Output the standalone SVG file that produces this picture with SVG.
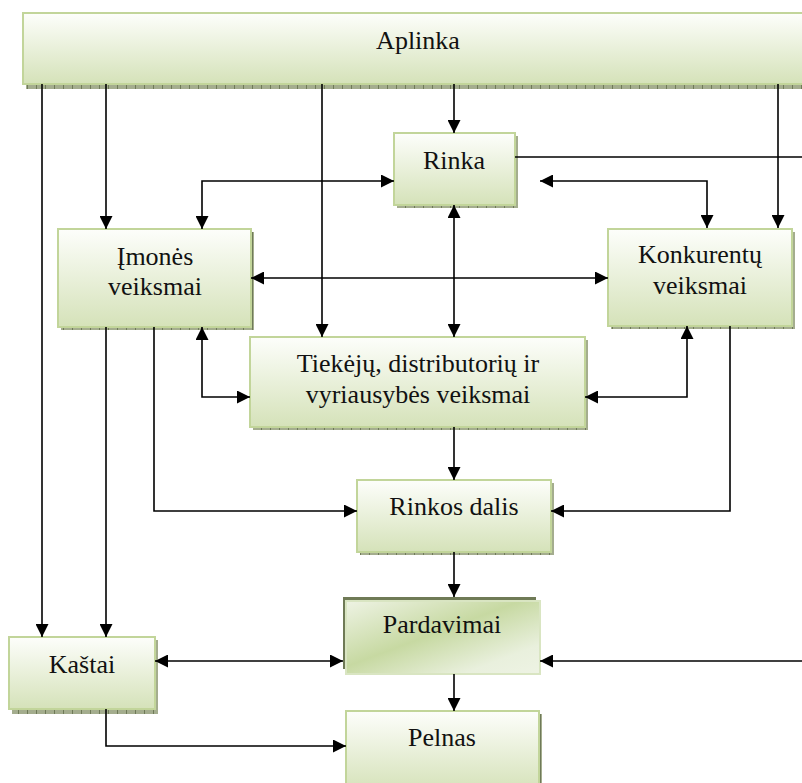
<svg xmlns="http://www.w3.org/2000/svg" width="802" height="783" viewBox="0 0 802 783">
<defs>
<linearGradient id="g" x1="0" y1="0" x2="0" y2="1">
<stop offset="0" stop-color="#fdfefb"/>
<stop offset="1" stop-color="#d5e2b9"/>
</linearGradient>
<linearGradient id="gp" x1="0" y1="0" x2="1" y2="1">
<stop offset="0" stop-color="#eef3e4"/>
<stop offset="0.45" stop-color="#c7d9a2"/>
<stop offset="0.8" stop-color="#e9f0dd"/>
<stop offset="1" stop-color="#eef3e4"/>
</linearGradient>
<pattern id="sh" width="9" height="6" patternUnits="userSpaceOnUse">
<rect width="9" height="6" fill="#a4ad8e"/>
<rect width="1" height="6" fill="#6f7a58"/>
</pattern>
<marker id="a" viewBox="0 0 13 13" refX="13" refY="6.5" markerWidth="13" markerHeight="13" markerUnits="userSpaceOnUse" orient="auto-start-reverse">
<path d="M0,0 L13,6.5 L0,13 Z" fill="#000"/>
</marker>
<style>
.box{fill:url(#g);stroke:#c2d59a;stroke-width:2}
.shd{fill:url(#sh)}
.t{font-family:'Liberation Serif','DejaVu Serif',serif;font-size:26px;fill:#111;text-anchor:middle}
.c{fill:none;stroke:#000;stroke-width:1.6}
</style>
</defs>

<g id="aplinka">
<rect class="shd" x="26" y="16" width="790" height="73"/>
<rect class="box" x="23" y="13" width="790" height="71"/>
<text class="t" x="418" y="49" font-family="Liberation Serif, serif">Aplinka</text>
</g>

<g id="rinka">
<rect class="shd" x="397" y="136" width="121" height="72"/>
<rect class="box" x="394" y="133" width="121" height="72"/>
<text class="t" x="454" y="169">Rinka</text>
</g>

<g id="imones">
<rect class="shd" x="61" y="232" width="193" height="98"/>
<rect class="box" x="58" y="229" width="193" height="98"/>
<text class="t" x="155" y="265">Įmonės</text>
<text class="t" x="155" y="295">veiksmai</text>
</g>

<g id="konkurentu">
<rect class="shd" x="611" y="232" width="184" height="97"/>
<rect class="box" x="608" y="229" width="184" height="97"/>
<text class="t" x="700" y="263">Konkurentų</text>
<text class="t" x="700" y="294">veiksmai</text>
</g>

<g id="tiekeju">
<rect class="shd" x="253" y="340" width="335" height="90"/>
<rect class="box" x="250" y="337" width="335" height="90"/>
<text class="t" x="418" y="372">Tiekėjų, distributorių ir</text>
<text class="t" x="418" y="403">vyriausybės veiksmai</text>
</g>

<g id="rinkos-dalis">
<rect class="shd" x="360" y="483" width="194" height="72"/>
<rect class="box" x="357" y="480" width="194" height="72"/>
<text class="t" x="454" y="515">Rinkos dalis</text>
</g>

<g id="pardavimai">
<rect x="343" y="597" width="193" height="72" fill="#6f7a56"/>
<rect x="346" y="601" width="194" height="73" fill="url(#gp)" stroke="#d9e5c2" stroke-width="2"/>
<text class="t" x="442" y="633">Pardavimai</text>
</g>

<g id="kastai">
<rect class="shd" x="12" y="640" width="146" height="74"/>
<rect class="box" x="9" y="637" width="146" height="72"/>
<text class="t" x="82" y="673">Kaštai</text>
</g>

<g id="pelnas">
<rect class="shd" x="349" y="714" width="193" height="80"/>
<rect class="box" x="346" y="711" width="193" height="80"/>
<text class="t" x="442" y="746">Pelnas</text>
</g>

<g id="connectors">
<path class="c" d="M42,84 V637" marker-end="url(#a)"/>
<path class="c" d="M106,84 V229" marker-end="url(#a)"/>
<path class="c" d="M322,84 V337" marker-end="url(#a)"/>
<path class="c" d="M454,84 V133" marker-end="url(#a)"/>
<path class="c" d="M778,84 V228" marker-end="url(#a)"/>
<path class="c" d="M394,181 H202 V229" marker-start="url(#a)" marker-end="url(#a)"/>
<path class="c" d="M540,181 H707 V228" marker-start="url(#a)" marker-end="url(#a)"/>
<path class="c" d="M454,205 V337" marker-start="url(#a)" marker-end="url(#a)"/>
<path class="c" d="M251,278 H608" marker-start="url(#a)" marker-end="url(#a)"/>
<path class="c" d="M202,327 V397 H250" marker-start="url(#a)" marker-end="url(#a)"/>
<path class="c" d="M585,397 H687 V326" marker-start="url(#a)" marker-end="url(#a)"/>
<path class="c" d="M454,427 V480" marker-end="url(#a)"/>
<path class="c" d="M154,327 V511 H357" marker-end="url(#a)"/>
<path class="c" d="M730,326 V511 H551" marker-end="url(#a)"/>
<path class="c" d="M454,552 V597" marker-end="url(#a)"/>
<path class="c" d="M106,327 V637" marker-end="url(#a)"/>
<path class="c" d="M155,661 H343" marker-start="url(#a)" marker-end="url(#a)"/>
<path class="c" d="M802,661 H540" marker-end="url(#a)"/>
<path class="c" d="M515,157 H802"/>
<path class="c" d="M454,674 V711" marker-end="url(#a)"/>
<path class="c" d="M106,709 V746 H346" marker-end="url(#a)"/>
</g>
</svg>
